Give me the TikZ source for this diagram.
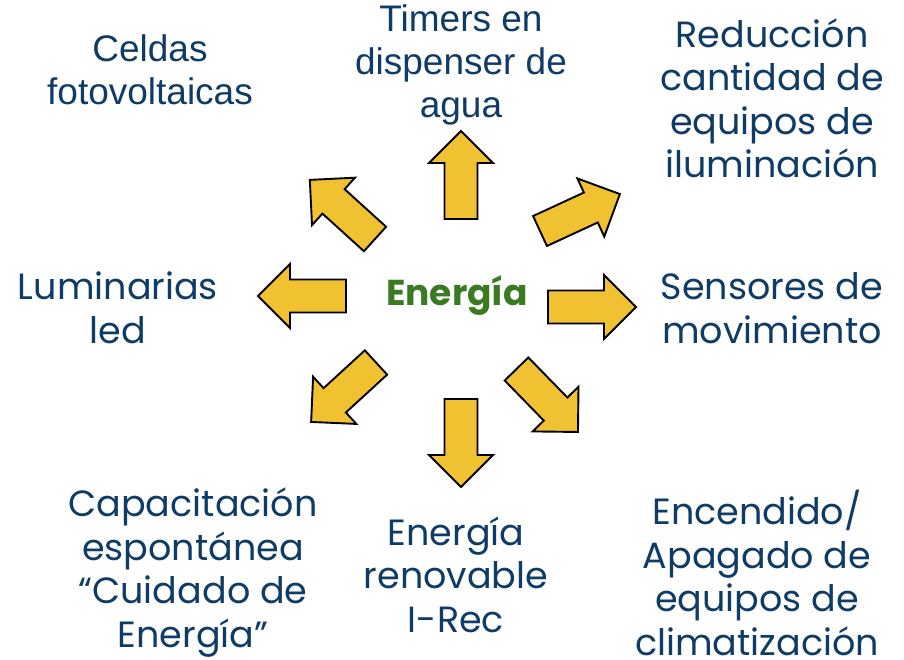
\documentclass[tikz,border=0pt]{standalone}
\usepackage{fontspec}
\setmainfont{Poppins}
\newfontfamily\arialf{Liberation Sans}
\definecolor{txtblue}{HTML}{0F3B67}
\definecolor{arrowyel}{HTML}{F0C232}
\definecolor{engreen}{HTML}{3A7A22}
\tikzset{
  arrowbox/.style={fill=arrowyel, draw=black, line width=1.9pt, line join=miter},
  lbl/.style={anchor=base, align=center, text=txtblue, inner sep=0pt,
    font=\fontsize{36.5}{43.5}\selectfont},
  lblarial/.style={lbl, font=\arialf\fontsize{37}{43}\selectfont},
}
\newcommand{\bigarrow}[3]{%
  \draw[arrowbox, shift={(#1,#2)}, rotate=#3]
    (0,-16.5) -- (56,-16.5) -- (56,-32) -- (88,0) -- (56,32) -- (56,16.5) -- (0,16.5) -- cycle;}
\begin{document}
\begin{tikzpicture}[x=1pt,y=-1pt]
\useasboundingbox (0,0) rectangle (904,660);
% arrows (tail centre, screen angle)
\bigarrow{461}{219}{90}
\bigarrow{548}{307}{0}
\bigarrow{346}{296}{180}
\bigarrow{461}{399}{270}
\bigarrow{375}{239}{137.8}
\bigarrow{540}{231}{24.8}
\bigarrow{516.5}{369}{-45.7}
\bigarrow{376}{362.5}{222.5}
% centre
\node[anchor=base, inner sep=0pt, text=engreen, font=\bfseries\fontsize{36}{40}\selectfont] (center) at (457,305) {Energía};
% labels (anchored at the baseline of the last line)
\node[lblarial] (celdas) at (150,105) {Celdas\\fotovoltaicas};
\node[lblarial] (timers) at (461,118) {Timers en\\dispenser de\\agua};
\node[lbl] (reduc) at (772,178) {Reducción\\cantidad de\\equipos de\\iluminación};
\node[lbl] (sens) at (772,343) {Sensores de\\movimiento};
\node[lbl] (lumi) at (118,343) {Luminarias\\led};
\node[lbl] (encen) at (757,655) {Encendido/\\Apagado de\\equipos de\\climatización};
\node[lbl] (capac) at (193,647) {Capacitación\\espontánea\\“Cuidado de\\Energía”};
\node[lbl] (renov) at (456,632) {Energía\\renovable\\I-Rec};
\end{tikzpicture}
\end{document}
